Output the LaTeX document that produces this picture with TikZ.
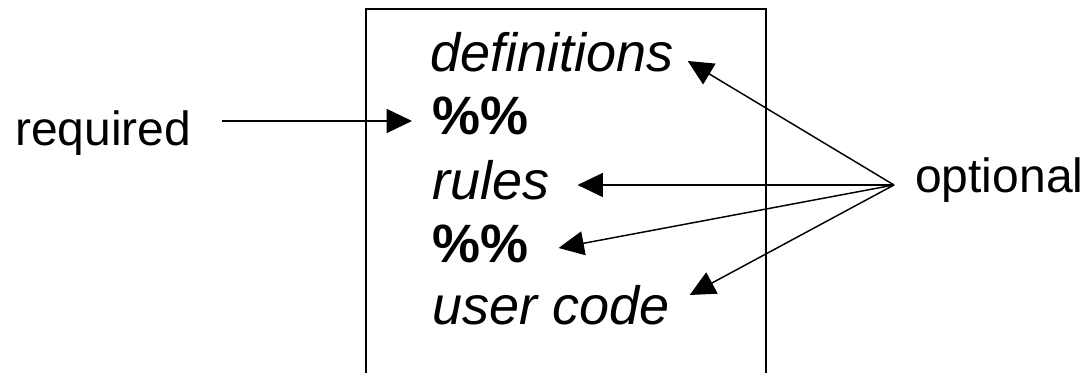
\documentclass[tikz,border=0pt]{standalone}
\usepackage{fontspec}
\setmainfont{Liberation Sans}
\usepackage{tikz}
\usetikzlibrary{arrows.meta, positioning, calc}

\begin{document}
\begin{tikzpicture}[
          x=0.75pt, y=0.75pt,
          part/.style={anchor=base west, inner sep=0pt, font=\fontsize{40.5}{48}\selectfont},
          lbl/.style={anchor=base west, inner sep=0pt, font=\fontsize{36}{43}\selectfont},
          arr/.style={line width=1.1pt, -{Triangle[length=19pt, width=18pt]}}
        ]
          \useasboundingbox (0,0) rectangle (1086,373);
          % the file frame, open at the bottom
          \draw[line width=1.5pt] (366,-5) |- (766,364) -- (766,-5);

          % sections of the file
          \node[part] (defs)  at (430,301) {\itshape definitions};
          \node[part] (sep1)  at (432,238) {\bfseries \%\%};
          \node[part] (rules) at (432,173) {\itshape rules};
          \node[part] (sep2)  at (432,110) {\bfseries \%\%};
          \node[part] (user)  at (432,48)  {\itshape user code};

          \node[lbl] (req) at (15,227)  {required};
          \node[lbl] (opt) at (915,180) {optional};
          \coordinate (hub) at ([shift={(-21,8)}]opt.base west);

          \draw[arr] ([shift={(30,25)}]req.base east) -- ([shift={(-20,14)}]sep1.base west);
          \draw[arr] (hub) -- ([shift={(14,11)}]defs.base east);
          \draw[arr] (hub) -- ([shift={(28,15)}]rules.base east);
          \draw[arr] (hub) -- ([shift={(30,15)}]sep2.base east);
          \draw[arr] (hub) -- ([shift={(20,30)}]user.base east);
        \end{tikzpicture}
\end{document}
